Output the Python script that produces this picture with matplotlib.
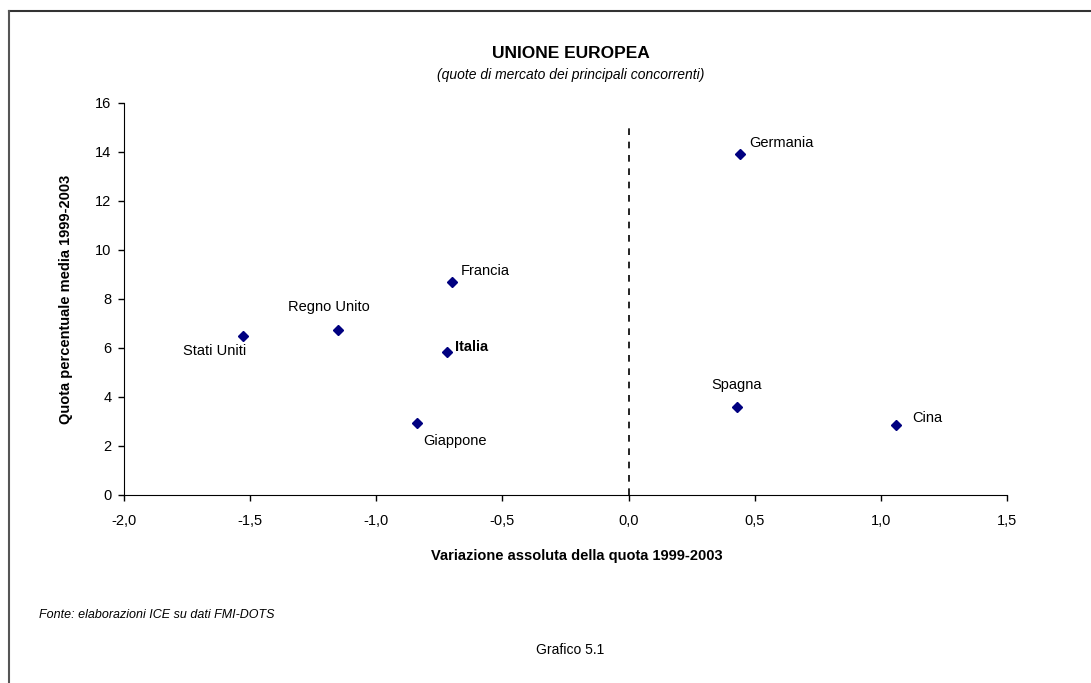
import matplotlib.pyplot as plt
from matplotlib.ticker import FuncFormatter

plt.rcParams['font.family'] = ['Liberation Sans', 'DejaVu Sans']

paesi = ['Germania', 'Spagna', 'Cina', 'Francia', 'Regno Unito',
         'Stati Uniti', 'Italia', 'Giappone']
variazione = [0.44, 0.43, 1.06, -0.70, -1.15, -1.53, -0.72, -0.84]
quota = [13.9, 3.6, 2.85, 8.7, 6.75, 6.5, 5.85, 2.95]

# spostamento etichette (punti) e allineamento
offset = {
    'Germania': ((7, 8), 'left'),
    'Spagna': ((0, 16), 'center'),
    'Cina': ((12, 5), 'left'),
    'Francia': ((6, 8), 'left'),
    'Regno Unito': ((-7, 16), 'center'),
    'Stati Uniti': ((-20, -11), 'center'),
    'Italia': ((6, 3), 'left'),
    'Giappone': ((5, -13), 'left'),
}

fig = plt.figure(figsize=(10.91, 6.83), dpi=100)
ax = fig.add_axes([0.1137, 0.2753, 0.8093, 0.5739])

ax.plot(variazione, quota, linestyle='none', marker='D', markersize=5,
        color='#000080')
ax.plot([0, 0], [0, 15.2], '--', color='black', lw=1.2, dashes=(4, 4))

for p, x, y in zip(paesi, variazione, quota):
    (dx, dy), ha = offset[p]
    ax.annotate(p, (x, y), xytext=(dx, dy), textcoords='offset points',
                ha=ha, va='center', fontsize=10.5,
                fontweight='bold' if p == 'Italia' else 'normal')

ax.set_xlim(-2.0, 1.5)
ax.set_ylim(0, 16)
ax.set_xticks([-2.0, -1.5, -1.0, -0.5, 0.0, 0.5, 1.0, 1.5])
ax.set_yticks(range(0, 17, 2))
ax.xaxis.set_major_formatter(FuncFormatter(lambda v, pos: ('%.1f' % v).replace('.', ',')))
for s in ['top', 'right']:
    ax.spines[s].set_visible(False)
ax.tick_params(labelsize=10.5, length=4, width=1, pad=5)
ax.xaxis.set_tick_params(pad=10)

ax.set_xlabel('Variazione assoluta della quota 1999-2003', fontsize=10.5,
              fontweight='bold')
ax.xaxis.set_label_coords(0.513, -0.139)
ax.set_ylabel('Quota percentuale media 1999-2003', fontsize=10.5,
              fontweight='bold', labelpad=16)

fig.text(0.523, 0.921, 'UNIONE EUROPEA', ha='center', va='center',
         fontsize=12.5, fontweight='bold')
fig.text(0.523, 0.890, '(quote di mercato dei principali concorrenti)',
         ha='center', va='center', fontsize=10, style='italic')
fig.text(0.036, 0.100, 'Fonte: elaborazioni ICE su dati FMI-DOTS',
         ha='left', va='center', fontsize=9, style='italic')
fig.text(0.523, 0.048, 'Grafico 5.1', ha='center', va='center', fontsize=10)

# cornice (solo lato superiore e sinistro visibili)
fig.add_artist(plt.Line2D([0.0083, 1.0], [0.984, 0.984], color='#333333', lw=1.5))
fig.add_artist(plt.Line2D([0.0083, 0.0083], [0.0, 0.984], color='#555555', lw=1.5))

fig.savefig('out.png', dpi=100)
